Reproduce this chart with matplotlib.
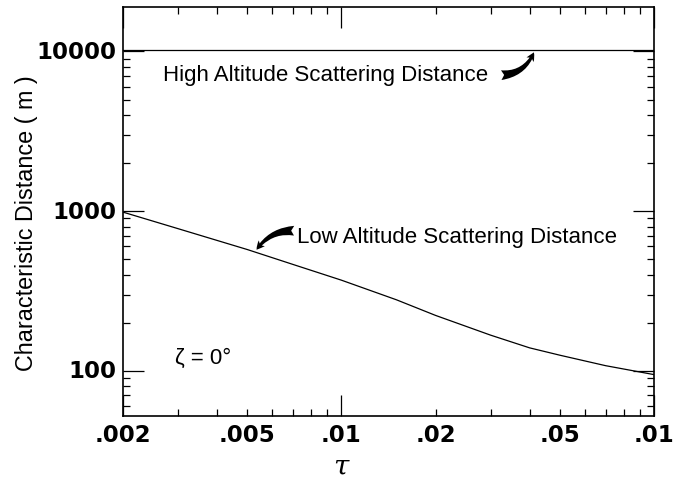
import matplotlib
matplotlib.use('Agg')

import numpy as np
import matplotlib.pyplot as plt
from matplotlib.ticker import FixedLocator, NullFormatter, LogLocator

# ------------------------------------------------------------------
#  Data
# ------------------------------------------------------------------
tau = [0.002, 0.003, 0.005, 0.007, 0.01, 0.015, 0.02, 0.03, 0.04, 0.05, 0.07, 0.1]
low_dist = [985, 776, 574, 463, 369, 278, 222, 167, 139, 125, 107.5, 94.5]
high_tau = [0.002, 0.1]
high_dist = [10250, 10250]

x_ticks = [0.002, 0.005, 0.01, 0.02, 0.05, 0.1]
x_labels = ['.002', '.005', '.01', '.02', '.05', '.01']
y_ticks = [100, 1000, 10000]
y_labels = ['100', '1000', '10000']

# ------------------------------------------------------------------
#  Figure
# ------------------------------------------------------------------
fig = plt.figure(figsize=(6.83, 4.85), dpi=100)
ax = fig.add_axes([0.1801, 0.1402, 0.7774, 0.8433])

ax.plot(tau, low_dist, color='black', lw=0.9)
ax.plot(high_tau, high_dist, color='black', lw=0.9)

ax.set_xscale('log')
ax.set_yscale('log')
ax.set_xlim(0.002, 0.1)
ax.set_ylim(52, 19000)

# ticks
ax.xaxis.set_major_locator(FixedLocator([0.002, 0.01, 0.1]))
ax.xaxis.set_minor_locator(LogLocator(base=10, subs=np.arange(2, 10)))
ax.xaxis.set_major_formatter(NullFormatter())
ax.xaxis.set_minor_formatter(NullFormatter())
ax.yaxis.set_major_locator(FixedLocator(y_ticks))
ax.yaxis.set_minor_locator(LogLocator(base=10, subs=np.arange(2, 10)))
ax.yaxis.set_major_formatter(NullFormatter())
ax.yaxis.set_minor_formatter(NullFormatter())

ax.tick_params(which='major', direction='in', length=15, width=0.9,
               top=True, right=True, labelbottom=False, labelleft=False)
ax.tick_params(which='minor', direction='in', length=5, width=0.9,
               top=True, right=True)

for sp in ax.spines.values():
    sp.set_linewidth(1.2)

# tick labels as text (bold, wide digits)
lbl_font = dict(family='DejaVu Sans', fontweight='bold', fontsize=16.5)
for xt, xl in zip(x_ticks, x_labels):
    ax.text(xt, -0.018, xl, transform=ax.get_xaxis_transform(),
            ha='center', va='top', **lbl_font)
for yt, yl in zip(y_ticks, y_labels):
    ax.text(-0.012, yt, yl, transform=ax.get_yaxis_transform(),
            ha='right', va='center', **lbl_font)

txt_font = dict(family='Liberation Sans', fontsize=16)
ax.set_ylabel('Characteristic Distance ( m )', family='Liberation Sans', fontsize=16.8)
ax.yaxis.set_label_coords(-0.16, 0.474)
ax.set_xlabel('τ', family='DejaVu Serif', style='italic', fontsize=20)
ax.xaxis.set_label_coords(0.41, -0.09)

# annotations
ax.text(0.075, 0.836, 'High Altitude Scattering Distance',
        transform=ax.transAxes, ha='left', va='center', **txt_font)
ax.text(0.328, 0.440, 'Low Altitude Scattering Distance',
        transform=ax.transAxes, ha='left', va='center', **txt_font)
ax.text(0.098, 0.144, 'ζ = 0°', transform=ax.transAxes,
        ha='left', va='center', **txt_font)

# arrows
def on_curve(x, xs, ys):
    return 10 ** np.interp(np.log10(x), np.log10(xs), np.log10(ys))

arrow_style = dict(arrowstyle='fancy,head_length=0.6,head_width=0.6,tail_width=0.7',
                   color='black', lw=0)
hx = 0.0416
ax.annotate('', xy=(hx, on_curve(hx, high_tau, high_dist)), xytext=(0.0318, 7100),
            arrowprops=dict(connectionstyle='arc3,rad=0.35', **arrow_style))
lx = 0.00529
ax.annotate('', xy=(lx, on_curve(lx, tau, low_dist)), xytext=(0.0072, 752),
            arrowprops=dict(connectionstyle='arc3,rad=0.3', **arrow_style))

fig.savefig('out.png', dpi=100)
